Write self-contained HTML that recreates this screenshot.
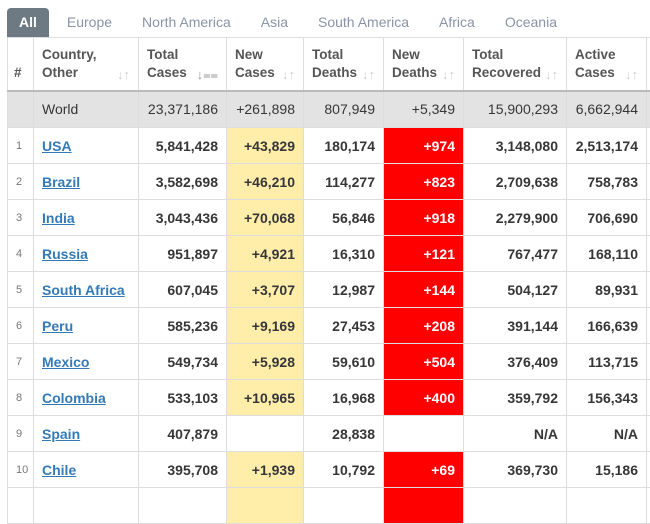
<!DOCTYPE html>
<html><head><meta charset="utf-8"><style>
body{margin:0;width:650px;height:492px;overflow:hidden;background:#fff;font-family:"Liberation Sans",Arial,sans-serif;}
.tabs{position:absolute;top:8px;left:7px;height:29px;display:flex;font-size:14px;color:#8a94a6;}
.tabs div{padding:0 12px;line-height:29px;margin-right:6px}
.tabs .act{background:#6d7a84;color:#fff;border-radius:4px 4px 0 0;font-weight:bold;padding:0 12px;}
table{position:absolute;top:37px;left:7px;border-collapse:collapse;table-layout:fixed;width:660px;}
td,th{border:1px solid #ddd;padding:0 8px;font-size:14px;color:#363636;overflow:hidden;white-space:nowrap;box-sizing:border-box;}
tr.h{height:53px}
th{height:53px;text-align:left;font-size:13.5px;color:#555;line-height:18px;border-bottom:2px solid #bbb;position:relative;vertical-align:middle}
th .s{position:absolute;right:8px;top:28px;color:#ccc;font-size:13px;font-weight:normal}
tr.w{height:37px}
tr.r{height:36px}
tr.w td{background:#e3e3e3;height:37px;font-weight:normal;text-align:right}
tr.r td{height:36px;font-weight:bold;text-align:right}
td.n{font-weight:normal!important;color:#777;font-size:11px;text-align:left!important}
td.c{text-align:left!important}
td.c a{color:#337ab7;text-decoration:underline}
.y{background:#ffeeaa}
.d{background:#ff0000;color:#fff!important}
</style></head><body>
<div class="tabs"><div class="act">All</div><div>Europe</div><div>North America</div><div>Asia</div><div>South America</div><div>Africa</div><div>Oceania</div></div>
<table>
<colgroup><col style="width:26px"><col style="width:105px"><col style="width:88px"><col style="width:77px"><col style="width:80px"><col style="width:80px"><col style="width:103px"><col style="width:80px"><col style="width:21px"></colgroup>
<tr class="h"><th style="padding-left:6px;padding-top:18px">#</th><th>Country,<br>Other<span class="s">↓↑</span></th><th>Total<br>Cases<span class="s" style="color:#999">↓⩵</span></th><th>New<br>Cases<span class="s">↓↑</span></th><th>Total<br>Deaths<span class="s">↓↑</span></th><th>New<br>Deaths<span class="s">↓↑</span></th><th>Total<br>Recovered<span class="s">↓↑</span></th><th>Active<br>Cases<span class="s">↓↑</span></th><th></th></tr>
<tr class="w"><td></td><td class="c">World</td><td>23,371,186</td><td>+261,898</td><td>807,949</td><td>+5,349</td><td>15,900,293</td><td>6,662,944</td><td></td></tr>
<tr class="r"><td class="n">1</td><td class="c"><a>USA</a></td><td>5,841,428</td><td class="y">+43,829</td><td>180,174</td><td class="d">+974</td><td>3,148,080</td><td>2,513,174</td><td></td></tr>
<tr class="r"><td class="n">2</td><td class="c"><a>Brazil</a></td><td>3,582,698</td><td class="y">+46,210</td><td>114,277</td><td class="d">+823</td><td>2,709,638</td><td>758,783</td><td></td></tr>
<tr class="r"><td class="n">3</td><td class="c"><a>India</a></td><td>3,043,436</td><td class="y">+70,068</td><td>56,846</td><td class="d">+918</td><td>2,279,900</td><td>706,690</td><td></td></tr>
<tr class="r"><td class="n">4</td><td class="c"><a>Russia</a></td><td>951,897</td><td class="y">+4,921</td><td>16,310</td><td class="d">+121</td><td>767,477</td><td>168,110</td><td></td></tr>
<tr class="r"><td class="n">5</td><td class="c"><a>South Africa</a></td><td>607,045</td><td class="y">+3,707</td><td>12,987</td><td class="d">+144</td><td>504,127</td><td>89,931</td><td></td></tr>
<tr class="r"><td class="n">6</td><td class="c"><a>Peru</a></td><td>585,236</td><td class="y">+9,169</td><td>27,453</td><td class="d">+208</td><td>391,144</td><td>166,639</td><td></td></tr>
<tr class="r"><td class="n">7</td><td class="c"><a>Mexico</a></td><td>549,734</td><td class="y">+5,928</td><td>59,610</td><td class="d">+504</td><td>376,409</td><td>113,715</td><td></td></tr>
<tr class="r"><td class="n">8</td><td class="c"><a>Colombia</a></td><td>533,103</td><td class="y">+10,965</td><td>16,968</td><td class="d">+400</td><td>359,792</td><td>156,343</td><td></td></tr>
<tr class="r"><td class="n">9</td><td class="c"><a>Spain</a></td><td>407,879</td><td></td><td>28,838</td><td></td><td>N/A</td><td>N/A</td><td></td></tr>
<tr class="r"><td class="n">10</td><td class="c"><a>Chile</a></td><td>395,708</td><td class="y">+1,939</td><td>10,792</td><td class="d">+69</td><td>369,730</td><td>15,186</td><td></td></tr>
<tr class="r"><td class="n"></td><td></td><td></td><td class="y"></td><td></td><td class="d"></td><td></td><td></td><td></td></tr>
</table>
</body></html>
